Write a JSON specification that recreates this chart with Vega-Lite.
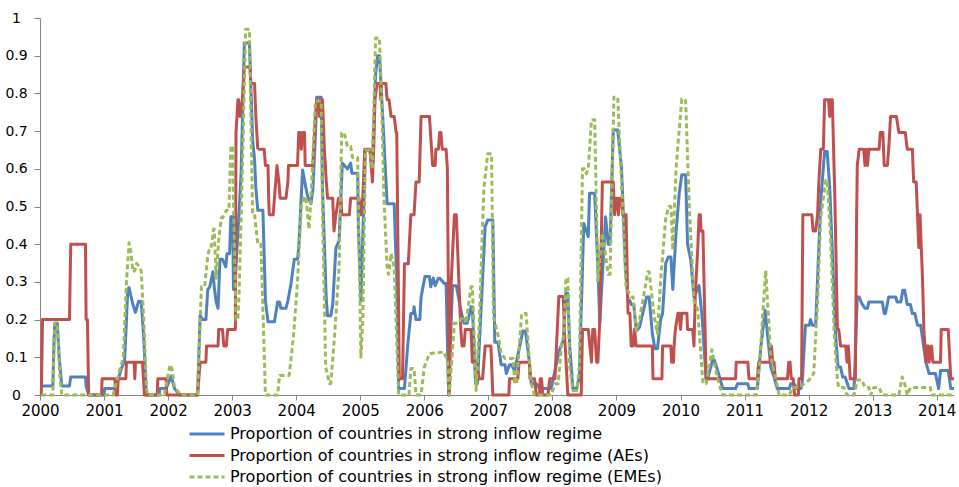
{
  "$schema": "https://vega.github.io/schema/vega-lite/v6.json",
  "width": 914,
  "height": 377,
  "autosize": {"type": "none"},
  "padding": {"left": 40, "top": 18, "right": 5, "bottom": 92},
  "background": "white",
  "data": {
    "values": [
      {"s":"A","t":2000.02,"v":0.024},{"s":"A","t":2000.20,"v":0.024},{"s":"A","t":2000.22,"v":0.15},{"s":"A","t":2000.23,"v":0.19},{"s":"A","t":2000.27,"v":0.19},{"s":"A","t":2000.30,"v":0.1},{"s":"A","t":2000.34,"v":0.024},{"s":"A","t":2000.46,"v":0.024},{"s":"A","t":2000.48,"v":0.048},{"s":"A","t":2000.71,"v":0.048},{"s":"A","t":2000.72,"v":0.024},{"s":"A","t":2000.76,"v":0},
      {"s":"A","t":2001.00,"v":0},{"s":"A","t":2001.01,"v":0.017},{"s":"A","t":2001.16,"v":0.017},{"s":"A","t":2001.22,"v":0.04},{"s":"A","t":2001.27,"v":0.07},{"s":"A","t":2001.32,"v":0.09},{"s":"A","t":2001.35,"v":0.2},{"s":"A","t":2001.37,"v":0.28},{"s":"A","t":2001.39,"v":0.285},{"s":"A","t":2001.45,"v":0.24},{"s":"A","t":2001.49,"v":0.219},{"s":"A","t":2001.54,"v":0.249},{"s":"A","t":2001.58,"v":0.249},{"s":"A","t":2001.62,"v":0.15},{"s":"A","t":2001.66,"v":0},{"s":"A","t":2001.86,"v":0},{"s":"A","t":2001.87,"v":0.017},{"s":"A","t":2001.97,"v":0.017},
      {"s":"A","t":2002.05,"v":0.05},{"s":"A","t":2002.10,"v":0.017},{"s":"A","t":2002.18,"v":0},{"s":"A","t":2002.46,"v":0},{"s":"A","t":2002.50,"v":0.21},{"s":"A","t":2002.54,"v":0.2},{"s":"A","t":2002.59,"v":0.2},{"s":"A","t":2002.62,"v":0.28},{"s":"A","t":2002.65,"v":0.287},{"s":"A","t":2002.70,"v":0.327},{"s":"A","t":2002.72,"v":0.287},{"s":"A","t":2002.75,"v":0.247},{"s":"A","t":2002.78,"v":0.23},{"s":"A","t":2002.81,"v":0.36},{"s":"A","t":2002.85,"v":0.36},{"s":"A","t":2002.90,"v":0.34},{"s":"A","t":2002.92,"v":0.375},{"s":"A","t":2002.96,"v":0.375},{"s":"A","t":2002.98,"v":0.473},
      {"s":"A","t":2003.01,"v":0.473},{"s":"A","t":2003.02,"v":0.28},{"s":"A","t":2003.04,"v":0.28},{"s":"A","t":2003.11,"v":0.49},{"s":"A","t":2003.14,"v":0.59},{"s":"A","t":2003.19,"v":0.934},{"s":"A","t":2003.27,"v":0.934},{"s":"A","t":2003.32,"v":0.676},{"s":"A","t":2003.35,"v":0.624},{"s":"A","t":2003.37,"v":0.55},{"s":"A","t":2003.40,"v":0.49},{"s":"A","t":2003.48,"v":0.49},{"s":"A","t":2003.52,"v":0.25},{"s":"A","t":2003.56,"v":0.194},{"s":"A","t":2003.66,"v":0.194},{"s":"A","t":2003.71,"v":0.247},{"s":"A","t":2003.74,"v":0.247},{"s":"A","t":2003.76,"v":0.23},{"s":"A","t":2003.84,"v":0.23},{"s":"A","t":2003.87,"v":0.25},{"s":"A","t":2003.92,"v":0.296},{"s":"A","t":2003.97,"v":0.36},
      {"s":"A","t":2004.02,"v":0.36},{"s":"A","t":2004.04,"v":0.393},{"s":"A","t":2004.10,"v":0.597},{"s":"A","t":2004.15,"v":0.55},{"s":"A","t":2004.18,"v":0.526},{"s":"A","t":2004.23,"v":0.508},{"s":"A","t":2004.26,"v":0.544},{"s":"A","t":2004.30,"v":0.69},{"s":"A","t":2004.32,"v":0.79},{"s":"A","t":2004.39,"v":0.79},{"s":"A","t":2004.41,"v":0.55},{"s":"A","t":2004.47,"v":0.25},{"s":"A","t":2004.49,"v":0.21},{"s":"A","t":2004.54,"v":0.21},{"s":"A","t":2004.57,"v":0.24},{"s":"A","t":2004.62,"v":0.39},{"s":"A","t":2004.67,"v":0.41},{"s":"A","t":2004.72,"v":0.615},{"s":"A","t":2004.80,"v":0.6},{"s":"A","t":2004.85,"v":0.615},{"s":"A","t":2004.87,"v":0.588},{"s":"A","t":2004.96,"v":0.588},{"s":"A","t":2004.97,"v":0.45},
      {"s":"A","t":2005.01,"v":0.25},{"s":"A","t":2005.08,"v":0.65},{"s":"A","t":2005.15,"v":0.65},{"s":"A","t":2005.19,"v":0.62},{"s":"A","t":2005.24,"v":0.85},{"s":"A","t":2005.27,"v":0.9},{"s":"A","t":2005.30,"v":0.9},{"s":"A","t":2005.35,"v":0.74},{"s":"A","t":2005.42,"v":0.507},{"s":"A","t":2005.53,"v":0.507},{"s":"A","t":2005.57,"v":0.3},{"s":"A","t":2005.60,"v":0.017},{"s":"A","t":2005.69,"v":0.017},{"s":"A","t":2005.74,"v":0.13},{"s":"A","t":2005.79,"v":0.216},{"s":"A","t":2005.83,"v":0.216},{"s":"A","t":2005.84,"v":0.234},{"s":"A","t":2005.87,"v":0.2},{"s":"A","t":2005.93,"v":0.2},{"s":"A","t":2005.95,"v":0.26},
      {"s":"A","t":2006.01,"v":0.314},{"s":"A","t":2006.08,"v":0.314},{"s":"A","t":2006.10,"v":0.287},{"s":"A","t":2006.14,"v":0.31},{"s":"A","t":2006.17,"v":0.29},{"s":"A","t":2006.22,"v":0.31},{"s":"A","t":2006.24,"v":0.31},{"s":"A","t":2006.31,"v":0.296},{"s":"A","t":2006.34,"v":0.296},{"s":"A","t":2006.38,"v":0},{"s":"A","t":2006.44,"v":0.29},{"s":"A","t":2006.50,"v":0.29},{"s":"A","t":2006.57,"v":0.225},{"s":"A","t":2006.62,"v":0.19},{"s":"A","t":2006.67,"v":0.19},{"s":"A","t":2006.73,"v":0.234},{"s":"A","t":2006.75,"v":0.234},{"s":"A","t":2006.80,"v":0.03},{"s":"A","t":2006.83,"v":0.03},{"s":"A","t":2006.88,"v":0.207},{"s":"A","t":2006.95,"v":0.446},{"s":"A","t":2006.99,"v":0.464},
      {"s":"A","t":2007.07,"v":0.464},{"s":"A","t":2007.10,"v":0.14},{"s":"A","t":2007.15,"v":0.14},{"s":"A","t":2007.20,"v":0.08},{"s":"A","t":2007.26,"v":0.08},{"s":"A","t":2007.28,"v":0.057},{"s":"A","t":2007.33,"v":0.08},{"s":"A","t":2007.36,"v":0.08},{"s":"A","t":2007.41,"v":0.065},{"s":"A","t":2007.54,"v":0.17},{"s":"A","t":2007.58,"v":0.17},{"s":"A","t":2007.64,"v":0.088},{"s":"A","t":2007.67,"v":0.03},{"s":"A","t":2007.75,"v":0.03},{"s":"A","t":2007.80,"v":0.017},{"s":"A","t":2007.98,"v":0.017},
      {"s":"A","t":2008.11,"v":0.12},{"s":"A","t":2008.17,"v":0.145},{"s":"A","t":2008.21,"v":0.27},{"s":"A","t":2008.24,"v":0.27},{"s":"A","t":2008.27,"v":0.13},{"s":"A","t":2008.32,"v":0.017},{"s":"A","t":2008.38,"v":0.017},{"s":"A","t":2008.42,"v":0.048},{"s":"A","t":2008.49,"v":0.455},{"s":"A","t":2008.56,"v":0.42},{"s":"A","t":2008.58,"v":0.535},{"s":"A","t":2008.66,"v":0.535},{"s":"A","t":2008.71,"v":0.34},{"s":"A","t":2008.74,"v":0.19},{"s":"A","t":2008.83,"v":0.473},{"s":"A","t":2008.87,"v":0.4},{"s":"A","t":2008.90,"v":0.4},{"s":"A","t":2008.95,"v":0.703},
      {"s":"A","t":2009.02,"v":0.703},{"s":"A","t":2009.08,"v":0.6},{"s":"A","t":2009.14,"v":0.34},{"s":"A","t":2009.18,"v":0.25},{"s":"A","t":2009.21,"v":0.25},{"s":"A","t":2009.23,"v":0.24},{"s":"A","t":2009.27,"v":0.24},{"s":"A","t":2009.31,"v":0.17},{"s":"A","t":2009.36,"v":0.18},{"s":"A","t":2009.47,"v":0.26},{"s":"A","t":2009.51,"v":0.26},{"s":"A","t":2009.56,"v":0.163},{"s":"A","t":2009.60,"v":0.123},{"s":"A","t":2009.64,"v":0.123},{"s":"A","t":2009.69,"v":0.2},{"s":"A","t":2009.72,"v":0.216},{"s":"A","t":2009.77,"v":0.35},{"s":"A","t":2009.81,"v":0.366},{"s":"A","t":2009.85,"v":0.366},{"s":"A","t":2009.88,"v":0.28},{"s":"A","t":2009.93,"v":0.43},{"s":"A","t":2009.98,"v":0.535},
      {"s":"A","t":2010.02,"v":0.584},{"s":"A","t":2010.08,"v":0.584},{"s":"A","t":2010.11,"v":0.4},{"s":"A","t":2010.16,"v":0.358},{"s":"A","t":2010.21,"v":0.26},{"s":"A","t":2010.29,"v":0.29},{"s":"A","t":2010.34,"v":0.2},{"s":"A","t":2010.40,"v":0.04},{"s":"A","t":2010.42,"v":0.04},{"s":"A","t":2010.50,"v":0.092},{"s":"A","t":2010.53,"v":0.092},{"s":"A","t":2010.58,"v":0.065},{"s":"A","t":2010.66,"v":0.017},{"s":"A","t":2010.86,"v":0.017},{"s":"A","t":2010.89,"v":0.03},
      {"s":"A","t":2011.05,"v":0.03},{"s":"A","t":2011.07,"v":0.017},{"s":"A","t":2011.20,"v":0.017},{"s":"A","t":2011.25,"v":0.12},{"s":"A","t":2011.32,"v":0.225},{"s":"A","t":2011.41,"v":0.074},{"s":"A","t":2011.46,"v":0.048},{"s":"A","t":2011.51,"v":0.017},{"s":"A","t":2011.70,"v":0.017},{"s":"A","t":2011.72,"v":0.03},{"s":"A","t":2011.77,"v":0.03},{"s":"A","t":2011.82,"v":0.017},{"s":"A","t":2011.88,"v":0.017},{"s":"A","t":2011.90,"v":0.03},{"s":"A","t":2011.95,"v":0.185},
      {"s":"A","t":2012.01,"v":0.185},{"s":"A","t":2012.03,"v":0.2},{"s":"A","t":2012.06,"v":0.185},{"s":"A","t":2012.11,"v":0.185},{"s":"A","t":2012.19,"v":0.517},{"s":"A","t":2012.22,"v":0.58},{"s":"A","t":2012.25,"v":0.646},{"s":"A","t":2012.29,"v":0.646},{"s":"A","t":2012.33,"v":0.55},{"s":"A","t":2012.38,"v":0.34},{"s":"A","t":2012.42,"v":0.163},{"s":"A","t":2012.46,"v":0.074},{"s":"A","t":2012.50,"v":0.074},{"s":"A","t":2012.53,"v":0.048},{"s":"A","t":2012.57,"v":0.048},{"s":"A","t":2012.63,"v":0.017},{"s":"A","t":2012.71,"v":0.017},{"s":"A","t":2012.76,"v":0.26},{"s":"A","t":2012.79,"v":0.26},{"s":"A","t":2012.83,"v":0.243},{"s":"A","t":2012.88,"v":0.23},{"s":"A","t":2012.92,"v":0.23},{"s":"A","t":2012.94,"v":0.247},
      {"s":"A","t":2013.15,"v":0.247},{"s":"A","t":2013.18,"v":0.216},{"s":"A","t":2013.20,"v":0.216},{"s":"A","t":2013.25,"v":0.26},{"s":"A","t":2013.36,"v":0.26},{"s":"A","t":2013.38,"v":0.247},{"s":"A","t":2013.44,"v":0.247},{"s":"A","t":2013.47,"v":0.278},{"s":"A","t":2013.50,"v":0.278},{"s":"A","t":2013.54,"v":0.24},{"s":"A","t":2013.59,"v":0.24},{"s":"A","t":2013.62,"v":0.216},{"s":"A","t":2013.66,"v":0.216},{"s":"A","t":2013.70,"v":0.185},{"s":"A","t":2013.75,"v":0.185},{"s":"A","t":2013.83,"v":0.088},{"s":"A","t":2013.88,"v":0.057},{"s":"A","t":2013.98,"v":0.057},
      {"s":"A","t":2014.03,"v":0.017},{"s":"A","t":2014.06,"v":0.065},{"s":"A","t":2014.18,"v":0.065},{"s":"A","t":2014.22,"v":0.017},{"s":"A","t":2014.27,"v":0.017},

      {"s":"B","t":2000.02,"v":0},{"s":"B","t":2000.04,"v":0.2},{"s":"B","t":2000.46,"v":0.2},{"s":"B","t":2000.48,"v":0.4},{"s":"B","t":2000.71,"v":0.4},{"s":"B","t":2000.72,"v":0.2},{"s":"B","t":2000.74,"v":0.2},{"s":"B","t":2000.76,"v":0},{"s":"B","t":2000.96,"v":0},{"s":"B","t":2000.97,"v":0.043},
      {"s":"B","t":2001.17,"v":0.043},{"s":"B","t":2001.18,"v":0},{"s":"B","t":2001.21,"v":0},{"s":"B","t":2001.22,"v":0.043},{"s":"B","t":2001.34,"v":0.043},{"s":"B","t":2001.35,"v":0.087},{"s":"B","t":2001.47,"v":0.087},{"s":"B","t":2001.48,"v":0.043},{"s":"B","t":2001.49,"v":0.087},{"s":"B","t":2001.60,"v":0.087},{"s":"B","t":2001.63,"v":0},{"s":"B","t":2001.83,"v":0},{"s":"B","t":2001.84,"v":0.043},{"s":"B","t":2001.97,"v":0.043},{"s":"B","t":2001.98,"v":0},
      {"s":"B","t":2002.46,"v":0},{"s":"B","t":2002.50,"v":0.087},{"s":"B","t":2002.59,"v":0.087},{"s":"B","t":2002.60,"v":0.13},{"s":"B","t":2002.78,"v":0.13},{"s":"B","t":2002.79,"v":0.174},{"s":"B","t":2002.85,"v":0.174},{"s":"B","t":2002.87,"v":0.13},{"s":"B","t":2002.91,"v":0.13},{"s":"B","t":2002.93,"v":0.174},
      {"s":"B","t":2003.05,"v":0.174},{"s":"B","t":2003.06,"v":0.696},{"s":"B","t":2003.09,"v":0.783},{"s":"B","t":2003.10,"v":0.783},{"s":"B","t":2003.12,"v":0.739},{"s":"B","t":2003.16,"v":0.783},{"s":"B","t":2003.19,"v":0.87},{"s":"B","t":2003.28,"v":0.87},{"s":"B","t":2003.29,"v":0.826},{"s":"B","t":2003.35,"v":0.826},{"s":"B","t":2003.37,"v":0.739},{"s":"B","t":2003.40,"v":0.652},{"s":"B","t":2003.50,"v":0.652},{"s":"B","t":2003.52,"v":0.609},{"s":"B","t":2003.56,"v":0.609},{"s":"B","t":2003.57,"v":0.522},{"s":"B","t":2003.58,"v":0.478},{"s":"B","t":2003.64,"v":0.478},{"s":"B","t":2003.66,"v":0.522},{"s":"B","t":2003.70,"v":0.609},{"s":"B","t":2003.73,"v":0.565},{"s":"B","t":2003.75,"v":0.522},{"s":"B","t":2003.84,"v":0.522},{"s":"B","t":2003.87,"v":0.565},{"s":"B","t":2003.88,"v":0.609},
      {"s":"B","t":2004.02,"v":0.609},{"s":"B","t":2004.04,"v":0.696},{"s":"B","t":2004.06,"v":0.696},{"s":"B","t":2004.08,"v":0.652},{"s":"B","t":2004.10,"v":0.696},{"s":"B","t":2004.13,"v":0.696},{"s":"B","t":2004.14,"v":0.609},{"s":"B","t":2004.26,"v":0.609},{"s":"B","t":2004.30,"v":0.739},{"s":"B","t":2004.32,"v":0.783},{"s":"B","t":2004.35,"v":0.783},{"s":"B","t":2004.36,"v":0.739},{"s":"B","t":2004.38,"v":0.783},{"s":"B","t":2004.41,"v":0.783},{"s":"B","t":2004.44,"v":0.652},{"s":"B","t":2004.47,"v":0.565},{"s":"B","t":2004.49,"v":0.522},{"s":"B","t":2004.57,"v":0.522},{"s":"B","t":2004.59,"v":0.435},{"s":"B","t":2004.62,"v":0.478},{"s":"B","t":2004.66,"v":0.522},{"s":"B","t":2004.70,"v":0.522},{"s":"B","t":2004.71,"v":0.478},{"s":"B","t":2004.83,"v":0.478},{"s":"B","t":2004.85,"v":0.522},{"s":"B","t":2004.98,"v":0.522},
      {"s":"B","t":2005.01,"v":0.478},{"s":"B","t":2005.04,"v":0.522},{"s":"B","t":2005.07,"v":0.652},{"s":"B","t":2005.15,"v":0.652},{"s":"B","t":2005.17,"v":0.609},{"s":"B","t":2005.19,"v":0.565},{"s":"B","t":2005.21,"v":0.652},{"s":"B","t":2005.23,"v":0.783},{"s":"B","t":2005.26,"v":0.826},{"s":"B","t":2005.31,"v":0.826},{"s":"B","t":2005.32,"v":0.783},{"s":"B","t":2005.33,"v":0.826},{"s":"B","t":2005.40,"v":0.826},{"s":"B","t":2005.42,"v":0.783},{"s":"B","t":2005.45,"v":0.783},{"s":"B","t":2005.48,"v":0.739},{"s":"B","t":2005.53,"v":0.739},{"s":"B","t":2005.56,"v":0.696},{"s":"B","t":2005.57,"v":0.696},{"s":"B","t":2005.61,"v":0.043},{"s":"B","t":2005.66,"v":0.043},{"s":"B","t":2005.69,"v":0.348},{"s":"B","t":2005.75,"v":0.348},{"s":"B","t":2005.79,"v":0.478},{"s":"B","t":2005.84,"v":0.478},{"s":"B","t":2005.87,"v":0.565},{"s":"B","t":2005.92,"v":0.565},{"s":"B","t":2005.95,"v":0.739},
      {"s":"B","t":2006.08,"v":0.739},{"s":"B","t":2006.13,"v":0.609},{"s":"B","t":2006.17,"v":0.609},{"s":"B","t":2006.18,"v":0.652},{"s":"B","t":2006.22,"v":0.652},{"s":"B","t":2006.24,"v":0.696},{"s":"B","t":2006.26,"v":0.696},{"s":"B","t":2006.28,"v":0.652},{"s":"B","t":2006.34,"v":0.652},{"s":"B","t":2006.36,"v":0.6},{"s":"B","t":2006.39,"v":0},{"s":"B","t":2006.42,"v":0.3},{"s":"B","t":2006.47,"v":0.478},{"s":"B","t":2006.50,"v":0.478},{"s":"B","t":2006.54,"v":0.3},{"s":"B","t":2006.57,"v":0.174},{"s":"B","t":2006.59,"v":0.13},{"s":"B","t":2006.62,"v":0.13},{"s":"B","t":2006.64,"v":0.174},{"s":"B","t":2006.73,"v":0.174},{"s":"B","t":2006.75,"v":0.087},{"s":"B","t":2006.81,"v":0.087},{"s":"B","t":2006.86,"v":0.043},{"s":"B","t":2006.91,"v":0.043},{"s":"B","t":2006.93,"v":0.087},{"s":"B","t":2006.95,"v":0.13},
      {"s":"B","t":2007.04,"v":0.13},{"s":"B","t":2007.07,"v":0},{"s":"B","t":2007.32,"v":0},{"s":"B","t":2007.33,"v":0.043},{"s":"B","t":2007.46,"v":0.043},{"s":"B","t":2007.48,"v":0.087},{"s":"B","t":2007.64,"v":0.087},{"s":"B","t":2007.65,"v":0.043},{"s":"B","t":2007.72,"v":0.043},{"s":"B","t":2007.75,"v":0},{"s":"B","t":2007.80,"v":0},{"s":"B","t":2007.81,"v":0.043},{"s":"B","t":2007.83,"v":0.043},{"s":"B","t":2007.85,"v":0},{"s":"B","t":2007.93,"v":0},{"s":"B","t":2007.96,"v":0.043},
      {"s":"B","t":2008.04,"v":0.043},{"s":"B","t":2008.10,"v":0.261},{"s":"B","t":2008.17,"v":0.261},{"s":"B","t":2008.19,"v":0.16},{"s":"B","t":2008.21,"v":0.1},{"s":"B","t":2008.24,"v":0},{"s":"B","t":2008.45,"v":0},{"s":"B","t":2008.47,"v":0.174},{"s":"B","t":2008.56,"v":0.174},{"s":"B","t":2008.61,"v":0.087},{"s":"B","t":2008.63,"v":0.174},{"s":"B","t":2008.66,"v":0.174},{"s":"B","t":2008.69,"v":0.087},{"s":"B","t":2008.71,"v":0.087},{"s":"B","t":2008.74,"v":0.2},{"s":"B","t":2008.78,"v":0.565},{"s":"B","t":2008.95,"v":0.565},{"s":"B","t":2008.97,"v":0.478},
      {"s":"B","t":2009.00,"v":0.522},{"s":"B","t":2009.02,"v":0.522},{"s":"B","t":2009.03,"v":0.478},{"s":"B","t":2009.05,"v":0.522},{"s":"B","t":2009.08,"v":0.522},{"s":"B","t":2009.10,"v":0.478},{"s":"B","t":2009.15,"v":0.478},{"s":"B","t":2009.18,"v":0.217},{"s":"B","t":2009.21,"v":0.217},{"s":"B","t":2009.23,"v":0.13},{"s":"B","t":2009.26,"v":0.13},{"s":"B","t":2009.28,"v":0.174},{"s":"B","t":2009.31,"v":0.13},{"s":"B","t":2009.56,"v":0.13},{"s":"B","t":2009.57,"v":0.043},{"s":"B","t":2009.71,"v":0.043},{"s":"B","t":2009.72,"v":0.13},{"s":"B","t":2009.85,"v":0.13},{"s":"B","t":2009.86,"v":0.087},{"s":"B","t":2009.89,"v":0.087},{"s":"B","t":2009.90,"v":0.13},{"s":"B","t":2009.92,"v":0.174},{"s":"B","t":2009.96,"v":0.217},{"s":"B","t":2009.98,"v":0.217},
      {"s":"B","t":2010.00,"v":0.174},{"s":"B","t":2010.02,"v":0.217},{"s":"B","t":2010.10,"v":0.217},{"s":"B","t":2010.11,"v":0.174},{"s":"B","t":2010.19,"v":0.174},{"s":"B","t":2010.21,"v":0.13},{"s":"B","t":2010.23,"v":0.261},{"s":"B","t":2010.27,"v":0.391},{"s":"B","t":2010.29,"v":0.478},{"s":"B","t":2010.31,"v":0.478},{"s":"B","t":2010.32,"v":0.435},{"s":"B","t":2010.35,"v":0.435},{"s":"B","t":2010.40,"v":0.043},{"s":"B","t":2010.86,"v":0.043},{"s":"B","t":2010.87,"v":0.087},
      {"s":"B","t":2011.05,"v":0.087},{"s":"B","t":2011.07,"v":0.043},{"s":"B","t":2011.20,"v":0.043},{"s":"B","t":2011.22,"v":0.087},{"s":"B","t":2011.40,"v":0.087},{"s":"B","t":2011.42,"v":0.13},{"s":"B","t":2011.44,"v":0.087},{"s":"B","t":2011.46,"v":0.087},{"s":"B","t":2011.48,"v":0.043},{"s":"B","t":2011.67,"v":0.043},{"s":"B","t":2011.69,"v":0.087},{"s":"B","t":2011.71,"v":0.087},{"s":"B","t":2011.73,"v":0.043},{"s":"B","t":2011.76,"v":0.043},{"s":"B","t":2011.78,"v":0},{"s":"B","t":2011.84,"v":0},{"s":"B","t":2011.85,"v":0.043},{"s":"B","t":2011.89,"v":0.043},{"s":"B","t":2011.91,"v":0.478},
      {"s":"B","t":2012.05,"v":0.478},{"s":"B","t":2012.07,"v":0.435},{"s":"B","t":2012.11,"v":0.435},{"s":"B","t":2012.14,"v":0.478},{"s":"B","t":2012.16,"v":0.565},{"s":"B","t":2012.19,"v":0.652},{"s":"B","t":2012.23,"v":0.652},{"s":"B","t":2012.25,"v":0.783},{"s":"B","t":2012.31,"v":0.783},{"s":"B","t":2012.33,"v":0.739},{"s":"B","t":2012.34,"v":0.783},{"s":"B","t":2012.37,"v":0.783},{"s":"B","t":2012.41,"v":0.522},{"s":"B","t":2012.45,"v":0.174},{"s":"B","t":2012.47,"v":0.174},{"s":"B","t":2012.50,"v":0.13},{"s":"B","t":2012.58,"v":0.13},{"s":"B","t":2012.60,"v":0.087},{"s":"B","t":2012.62,"v":0.13},{"s":"B","t":2012.65,"v":0.043},{"s":"B","t":2012.73,"v":0.043},{"s":"B","t":2012.75,"v":0.478},{"s":"B","t":2012.76,"v":0.609},{"s":"B","t":2012.79,"v":0.652},{"s":"B","t":2012.86,"v":0.652},{"s":"B","t":2012.88,"v":0.609},{"s":"B","t":2012.90,"v":0.652},{"s":"B","t":2012.92,"v":0.609},{"s":"B","t":2012.94,"v":0.652},
      {"s":"B","t":2013.10,"v":0.652},{"s":"B","t":2013.12,"v":0.696},{"s":"B","t":2013.16,"v":0.696},{"s":"B","t":2013.18,"v":0.609},{"s":"B","t":2013.23,"v":0.609},{"s":"B","t":2013.25,"v":0.652},{"s":"B","t":2013.28,"v":0.739},{"s":"B","t":2013.37,"v":0.739},{"s":"B","t":2013.41,"v":0.696},{"s":"B","t":2013.51,"v":0.696},{"s":"B","t":2013.54,"v":0.652},{"s":"B","t":2013.62,"v":0.652},{"s":"B","t":2013.64,"v":0.565},{"s":"B","t":2013.68,"v":0.565},{"s":"B","t":2013.70,"v":0.478},{"s":"B","t":2013.72,"v":0.391},{"s":"B","t":2013.74,"v":0.478},{"s":"B","t":2013.78,"v":0.3},{"s":"B","t":2013.80,"v":0.174},{"s":"B","t":2013.83,"v":0.087},{"s":"B","t":2013.84,"v":0.13},{"s":"B","t":2013.87,"v":0.13},{"s":"B","t":2013.88,"v":0.087},{"s":"B","t":2013.92,"v":0.13},{"s":"B","t":2013.94,"v":0.087},
      {"s":"B","t":2014.06,"v":0.087},{"s":"B","t":2014.07,"v":0.174},{"s":"B","t":2014.18,"v":0.174},{"s":"B","t":2014.22,"v":0.043},{"s":"B","t":2014.27,"v":0.043},

      {"s":"C","t":2000.02,"v":0},{"s":"C","t":2000.20,"v":0},{"s":"C","t":2000.23,"v":0.19},{"s":"C","t":2000.27,"v":0.19},{"s":"C","t":2000.31,"v":0.05},{"s":"C","t":2000.34,"v":0},
      {"s":"C","t":2001.14,"v":0},{"s":"C","t":2001.22,"v":0.05},{"s":"C","t":2001.30,"v":0.1},{"s":"C","t":2001.35,"v":0.3},{"s":"C","t":2001.39,"v":0.404},{"s":"C","t":2001.42,"v":0.38},{"s":"C","t":2001.45,"v":0.327},{"s":"C","t":2001.48,"v":0.33},{"s":"C","t":2001.51,"v":0.349},{"s":"C","t":2001.55,"v":0.34},{"s":"C","t":2001.58,"v":0.33},{"s":"C","t":2001.62,"v":0.2},{"s":"C","t":2001.66,"v":0.02},{"s":"C","t":2001.68,"v":0},{"s":"C","t":2001.94,"v":0},
      {"s":"C","t":2002.03,"v":0.08},{"s":"C","t":2002.06,"v":0.07},{"s":"C","t":2002.10,"v":0.02},{"s":"C","t":2002.20,"v":0},{"s":"C","t":2002.46,"v":0},{"s":"C","t":2002.52,"v":0.287},{"s":"C","t":2002.57,"v":0.287},{"s":"C","t":2002.62,"v":0.37},{"s":"C","t":2002.65,"v":0.39},{"s":"C","t":2002.67,"v":0.39},{"s":"C","t":2002.71,"v":0.44},{"s":"C","t":2002.72,"v":0.44},{"s":"C","t":2002.75,"v":0.31},{"s":"C","t":2002.79,"v":0.41},{"s":"C","t":2002.83,"v":0.47},{"s":"C","t":2002.85,"v":0.47},{"s":"C","t":2002.91,"v":0.49},{"s":"C","t":2002.95,"v":0.49},{"s":"C","t":2002.98,"v":0.66},
      {"s":"C","t":2003.01,"v":0.66},{"s":"C","t":2003.02,"v":0.52},{"s":"C","t":2003.06,"v":0.2},{"s":"C","t":2003.09,"v":0.2},{"s":"C","t":2003.11,"v":0.28},{"s":"C","t":2003.16,"v":0.6},{"s":"C","t":2003.21,"v":0.97},{"s":"C","t":2003.27,"v":0.97},{"s":"C","t":2003.30,"v":0.65},{"s":"C","t":2003.32,"v":0.48},{"s":"C","t":2003.35,"v":0.48},{"s":"C","t":2003.40,"v":0.4},{"s":"C","t":2003.45,"v":0.4},{"s":"C","t":2003.52,"v":0},{"s":"C","t":2003.71,"v":0},{"s":"C","t":2003.74,"v":0.052},{"s":"C","t":2003.89,"v":0.052},{"s":"C","t":2003.96,"v":0.16},
      {"s":"C","t":2004.02,"v":0.3},{"s":"C","t":2004.08,"v":0.5},{"s":"C","t":2004.13,"v":0.526},{"s":"C","t":2004.15,"v":0.526},{"s":"C","t":2004.20,"v":0.44},{"s":"C","t":2004.23,"v":0.52},{"s":"C","t":2004.30,"v":0.78},{"s":"C","t":2004.39,"v":0.78},{"s":"C","t":2004.41,"v":0.5},{"s":"C","t":2004.46,"v":0.074},{"s":"C","t":2004.52,"v":0.03},{"s":"C","t":2004.54,"v":0.03},{"s":"C","t":2004.60,"v":0.16},{"s":"C","t":2004.67,"v":0.34},{"s":"C","t":2004.71,"v":0.695},{"s":"C","t":2004.75,"v":0.695},{"s":"C","t":2004.80,"v":0.66},{"s":"C","t":2004.85,"v":0.66},{"s":"C","t":2004.88,"v":0.63},{"s":"C","t":2004.96,"v":0.63},
      {"s":"C","t":2005.01,"v":0.1},{"s":"C","t":2005.04,"v":0.2},{"s":"C","t":2005.08,"v":0.65},{"s":"C","t":2005.15,"v":0.65},{"s":"C","t":2005.19,"v":0.6},{"s":"C","t":2005.24,"v":0.947},{"s":"C","t":2005.30,"v":0.947},{"s":"C","t":2005.34,"v":0.74},{"s":"C","t":2005.37,"v":0.52},{"s":"C","t":2005.42,"v":0.34},{"s":"C","t":2005.44,"v":0.32},{"s":"C","t":2005.46,"v":0.34},{"s":"C","t":2005.48,"v":0.375},{"s":"C","t":2005.53,"v":0.34},{"s":"C","t":2005.60,"v":0},{"s":"C","t":2005.76,"v":0},{"s":"C","t":2005.79,"v":0.07},{"s":"C","t":2005.84,"v":0.07},{"s":"C","t":2005.87,"v":0},{"s":"C","t":2005.95,"v":0},
      {"s":"C","t":2006.00,"v":0.074},{"s":"C","t":2006.08,"v":0.11},{"s":"C","t":2006.31,"v":0.114},{"s":"C","t":2006.36,"v":0.09},{"s":"C","t":2006.39,"v":0},{"s":"C","t":2006.47,"v":0.19},{"s":"C","t":2006.54,"v":0.19},{"s":"C","t":2006.59,"v":0.207},{"s":"C","t":2006.62,"v":0.207},{"s":"C","t":2006.65,"v":0.19},{"s":"C","t":2006.73,"v":0.287},{"s":"C","t":2006.75,"v":0.287},{"s":"C","t":2006.81,"v":0.012},{"s":"C","t":2006.86,"v":0.2},{"s":"C","t":2006.93,"v":0.55},{"s":"C","t":2006.99,"v":0.64},
      {"s":"C","t":2007.05,"v":0.64},{"s":"C","t":2007.08,"v":0.207},{"s":"C","t":2007.15,"v":0.16},{"s":"C","t":2007.20,"v":0.11},{"s":"C","t":2007.26,"v":0.097},{"s":"C","t":2007.39,"v":0.097},{"s":"C","t":2007.41,"v":0.03},{"s":"C","t":2007.44,"v":0.03},{"s":"C","t":2007.52,"v":0.216},{"s":"C","t":2007.59,"v":0.216},{"s":"C","t":2007.64,"v":0.088},{"s":"C","t":2007.67,"v":0.03},{"s":"C","t":2007.72,"v":0},{"s":"C","t":2007.98,"v":0},
      {"s":"C","t":2008.04,"v":0.03},{"s":"C","t":2008.09,"v":0.03},{"s":"C","t":2008.14,"v":0.13},{"s":"C","t":2008.18,"v":0.16},{"s":"C","t":2008.21,"v":0.31},{"s":"C","t":2008.24,"v":0.31},{"s":"C","t":2008.27,"v":0.074},{"s":"C","t":2008.32,"v":0.012},{"s":"C","t":2008.38,"v":0.012},{"s":"C","t":2008.42,"v":0.074},{"s":"C","t":2008.47,"v":0.6},{"s":"C","t":2008.50,"v":0.6},{"s":"C","t":2008.53,"v":0.587},{"s":"C","t":2008.56,"v":0.6},{"s":"C","t":2008.61,"v":0.73},{"s":"C","t":2008.66,"v":0.73},{"s":"C","t":2008.71,"v":0.3},{"s":"C","t":2008.78,"v":0.43},{"s":"C","t":2008.87,"v":0.32},{"s":"C","t":2008.90,"v":0.32},{"s":"C","t":2008.96,"v":0.79},
      {"s":"C","t":2009.02,"v":0.79},{"s":"C","t":2009.09,"v":0.517},{"s":"C","t":2009.15,"v":0.287},{"s":"C","t":2009.23,"v":0.26},{"s":"C","t":2009.26,"v":0.26},{"s":"C","t":2009.31,"v":0.17},{"s":"C","t":2009.36,"v":0.2},{"s":"C","t":2009.49,"v":0.327},{"s":"C","t":2009.51,"v":0.327},{"s":"C","t":2009.59,"v":0.207},{"s":"C","t":2009.64,"v":0.163},{"s":"C","t":2009.69,"v":0.305},{"s":"C","t":2009.77,"v":0.47},{"s":"C","t":2009.82,"v":0.5},{"s":"C","t":2009.85,"v":0.5},{"s":"C","t":2009.88,"v":0.385},{"s":"C","t":2009.93,"v":0.6},
      {"s":"C","t":2010.02,"v":0.785},{"s":"C","t":2010.06,"v":0.785},{"s":"C","t":2010.08,"v":0.78},{"s":"C","t":2010.14,"v":0.49},{"s":"C","t":2010.21,"v":0.25},{"s":"C","t":2010.27,"v":0.225},{"s":"C","t":2010.35,"v":0.03},{"s":"C","t":2010.40,"v":0.03},{"s":"C","t":2010.49,"v":0.12},{"s":"C","t":2010.54,"v":0.074},{"s":"C","t":2010.60,"v":0.03},{"s":"C","t":2010.66,"v":0},
      {"s":"C","t":2011.18,"v":0},{"s":"C","t":2011.23,"v":0.074},{"s":"C","t":2011.33,"v":0.33},{"s":"C","t":2011.41,"v":0.1},{"s":"C","t":2011.49,"v":0.04},{"s":"C","t":2011.54,"v":0},{"s":"C","t":2011.70,"v":0},{"s":"C","t":2011.75,"v":0.02},{"s":"C","t":2011.85,"v":0.02},
      {"s":"C","t":2012.01,"v":0.04},{"s":"C","t":2012.08,"v":0.057},{"s":"C","t":2012.14,"v":0.25},{"s":"C","t":2012.19,"v":0.473},{"s":"C","t":2012.27,"v":0.57},{"s":"C","t":2012.29,"v":0.57},{"s":"C","t":2012.34,"v":0.43},{"s":"C","t":2012.40,"v":0.163},{"s":"C","t":2012.45,"v":0.04},{"s":"C","t":2012.47,"v":0.02},{"s":"C","t":2012.55,"v":0.02},{"s":"C","t":2012.60,"v":0},{"s":"C","t":2012.71,"v":0},{"s":"C","t":2012.76,"v":0.04},{"s":"C","t":2012.83,"v":0.04},{"s":"C","t":2012.88,"v":0.02},{"s":"C","t":2012.94,"v":0.02},{"s":"C","t":2012.97,"v":0},
      {"s":"C","t":2013.02,"v":0.02},{"s":"C","t":2013.10,"v":0.02},{"s":"C","t":2013.15,"v":0},{"s":"C","t":2013.41,"v":0},{"s":"C","t":2013.46,"v":0.048},{"s":"C","t":2013.50,"v":0.03},{"s":"C","t":2013.54,"v":0},{"s":"C","t":2013.59,"v":0.02},{"s":"C","t":2013.90,"v":0.02},{"s":"C","t":2013.92,"v":0},{"s":"C","t":2014.27,"v":0}
    ]
  },
  "mark": {"type": "line", "strokeWidth": 3, "strokeJoin": "round", "clip": false},
  "encoding": {
    "x": {
      "field": "t",
      "type": "quantitative",
      "scale": {"domain": [2000, 2014.27], "nice": false, "zero": false},
      "axis": {
        "title": null,
        "values": [2000, 2001, 2002, 2003, 2004, 2005, 2006, 2007, 2008, 2009, 2010, 2011, 2012, 2013, 2014],
        "format": "d",
        "tickSize": 5,
        "labelPadding": 3,
        "labelFontSize": 15,
        "labelFlush": false,
        "labelOverlap": false
      }
    },
    "y": {
      "field": "v",
      "type": "quantitative",
      "scale": {"domain": [0, 1], "nice": false},
      "axis": {
        "title": null,
        "values": [0, 0.1, 0.2, 0.3, 0.4, 0.5, 0.6, 0.7, 0.8, 0.9, 1],
        "format": ".1~f",
        "tickSize": 6,
        "labelAlign": "center",
        "labelPadding": 18
      }
    },
    "color": {
      "field": "s",
      "type": "nominal",
      "scale": {"domain": ["A", "B", "C"], "range": ["#4F81BD", "#C0504D", "#9BBB59"]},
      "legend": {
        "title": null,
        "labelExpr": "datum.value == 'A' ? 'Proportion of countries in strong inflow regime' : datum.value == 'B' ? 'Proportion of countries in strong inflow regime (AEs)' : 'Proportion of countries in strong inflow regime (EMEs)'"
      }
    },
    "strokeDash": {
      "field": "s",
      "type": "nominal",
      "scale": {"domain": ["A", "B", "C"], "range": [[1, 0], [1, 0], [5, 3]]},
      "legend": {
        "title": null,
        "labelExpr": "datum.value == 'A' ? 'Proportion of countries in strong inflow regime' : datum.value == 'B' ? 'Proportion of countries in strong inflow regime (AEs)' : 'Proportion of countries in strong inflow regime (EMEs)'"
      }
    }
  },
  "config": {
    "view": {"stroke": null},
    "axis": {
      "grid": false,
      "domainColor": "#868686",
      "tickColor": "#868686",
      "labelColor": "#000000",
      "labelFont": "DejaVu Sans",
      "labelFontSize": 14
    },
    "legend": {
      "orient": "none",
      "legendX": 148,
      "legendY": 408,
      "direction": "vertical",
      "symbolType": "stroke",
      "symbolSize": 1225,
      "symbolStrokeWidth": 3,
      "clipHeight": 16,
      "rowPadding": 5.5,
      "labelFont": "DejaVu Sans",
      "labelFontSize": 16,
      "labelColor": "#000000",
      "labelOffset": 4,
      "labelLimit": 700
    }
  }
}
